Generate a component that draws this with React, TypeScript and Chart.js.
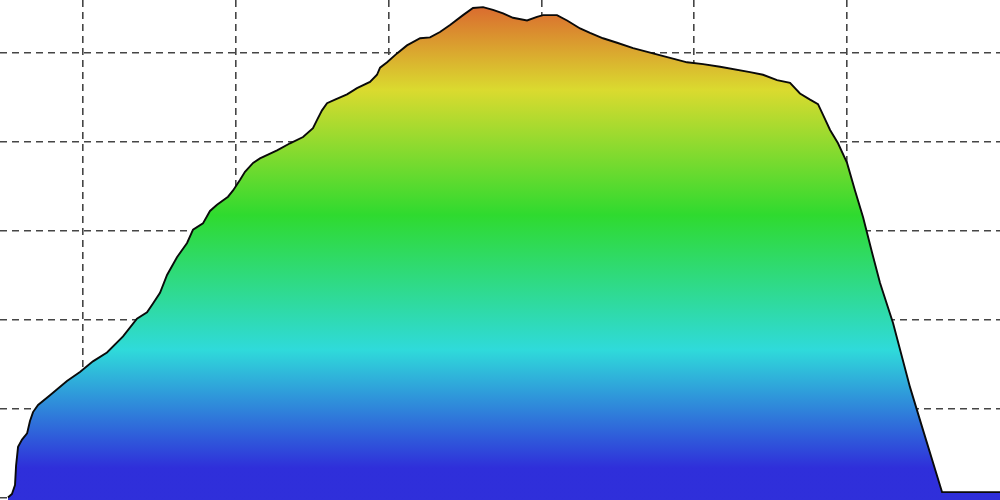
import React, { useEffect, useRef } from "react";
import { Chart, registerables } from "chart.js";

Chart.register(...registerables);

// Distance along the profile (km)
const distance: number[] = [
  5.09, 5.35, 5.55, 5.62, 5.75, 6.01, 6.34, 6.53, 6.73, 7.06, 7.84, 8.95, 9.8, 10.65,
  11.57, 12.62, 13.53, 14.19, 14.58, 15.04, 15.5, 16.15, 16.81, 17.2, 17.85, 18.31,
  18.77, 19.49, 19.82, 20.28, 20.6, 21.13, 21.58, 22.7, 23.55, 24.4, 25.05, 25.31,
  25.64, 25.97, 26.49, 27.28, 27.93, 28.78, 29.24, 29.44, 29.9, 30.55, 31.2, 32.06,
  32.71, 33.36, 34.02, 34.87, 35.52, 36.18, 36.83, 37.49, 38.14, 39.06, 39.71, 40.11,
  41.02, 41.68, 42.53, 43.18, 44.03, 44.95, 46.0, 47.3, 48.42, 49.53, 50.58, 51.69,
  53.65, 54.5, 55.42, 56.27, 56.92, 57.58, 58.1, 58.43, 58.89, 59.41, 60.0, 60.52,
  61.05, 61.64, 62.16, 63.01, 64.12, 64.97, 66.22, 70.01,
];

// Elevation (m)
const elevation: number[] = [
  0, 4, 14, 36, 57, 65, 72, 86, 96, 104, 115, 131, 141, 153,
  163, 181, 201, 208, 218, 230, 250, 270, 286, 301, 308, 322,
  329, 338, 345, 357, 366, 376, 381, 390, 398, 405, 415, 424,
  435, 443, 447, 453, 460, 467, 475, 483, 489, 499, 508, 516,
  517, 523, 531, 542, 550, 551, 548, 544, 539, 536, 540, 542,
  542, 536, 527, 522, 516, 511, 505, 499, 494, 489, 487, 484,
  478, 475, 469, 466, 454, 447, 442, 430, 413, 398, 376, 345,
  315, 275, 241, 196, 124, 76, 6, 6,
];

const xGridTicks: number[] = [10, 20, 30, 40, 50, 60];
const yGridTicks: number[] = [0, 100, 200, 300, 400, 500];

export default function App() {
  const canvasRef = useRef<HTMLCanvasElement | null>(null);

  useEffect(() => {
    const canvas = canvasRef.current;
    if (!canvas) return;

    const gradientFill = (context: any) => {
      const chart = context.chart;
      const area = chart.chartArea;
      if (!area) return "rgba(50,50,220,1)";
      const top = area.top;
      const bottom = area.bottom;
      const h = bottom - top;
      const g = chart.ctx.createLinearGradient(0, bottom, 0, top);
      const stops: [number, number][] = [
        [500, 240],
        [468, 240],
        [350, 180],
        [215, 120],
        [90, 60],
        [0, 18],
      ];
      for (const [py, hue] of stops) {
        const frac = Math.min(1, Math.max(0, (bottom - (top + (py / 500) * h)) / h));
        g.addColorStop(frac, `hsl(${hue}, 70%, 52%)`);
      }
      return g;
    };

    const chart = new Chart(canvas, {
      type: "line",
      data: {
        datasets: [
          {
            data: distance.map((d, i) => ({ x: d, y: elevation[i] })),
            borderColor: "#0a0a0a",
            borderWidth: 1.9,
            backgroundColor: gradientFill,
            fill: "start",
            pointRadius: 0,
            tension: 0,
          },
        ],
      },
      options: {
        animation: false,
        responsive: true,
        maintainAspectRatio: false,
        layout: { padding: 0 },
        plugins: {
          legend: { display: false },
          tooltip: { enabled: false },
        },
        scales: {
          x: {
            type: "linear",
            min: 4.568,
            max: 70.01,
            afterBuildTicks: (scale: any) => {
              scale.ticks = xGridTicks.map((v) => ({ value: v }));
            },
            ticks: { display: false },
            border: { display: false, dash: [7, 5] },
            grid: {
              color: "#454545",
              lineWidth: 1.6,
              drawTicks: false,
            },
          },
          y: {
            type: "linear",
            min: -2.8,
            max: 559,
            afterBuildTicks: (scale: any) => {
              scale.ticks = yGridTicks.map((v) => ({ value: v }));
            },
            ticks: { display: false },
            border: { display: false, dash: [7, 5] },
            grid: {
              color: "#454545",
              lineWidth: 1.6,
              drawTicks: false,
            },
          },
        },
      } as any,
    });

    return () => {
      chart.destroy();
    };
  }, []);

  return (
    <div
      style={{
        position: "fixed",
        left: 0,
        top: 0,
        width: "1000px",
        height: "500px",
        background: "#ffffff",
      }}
    >
      <canvas ref={canvasRef} />
    </div>
  );
}
